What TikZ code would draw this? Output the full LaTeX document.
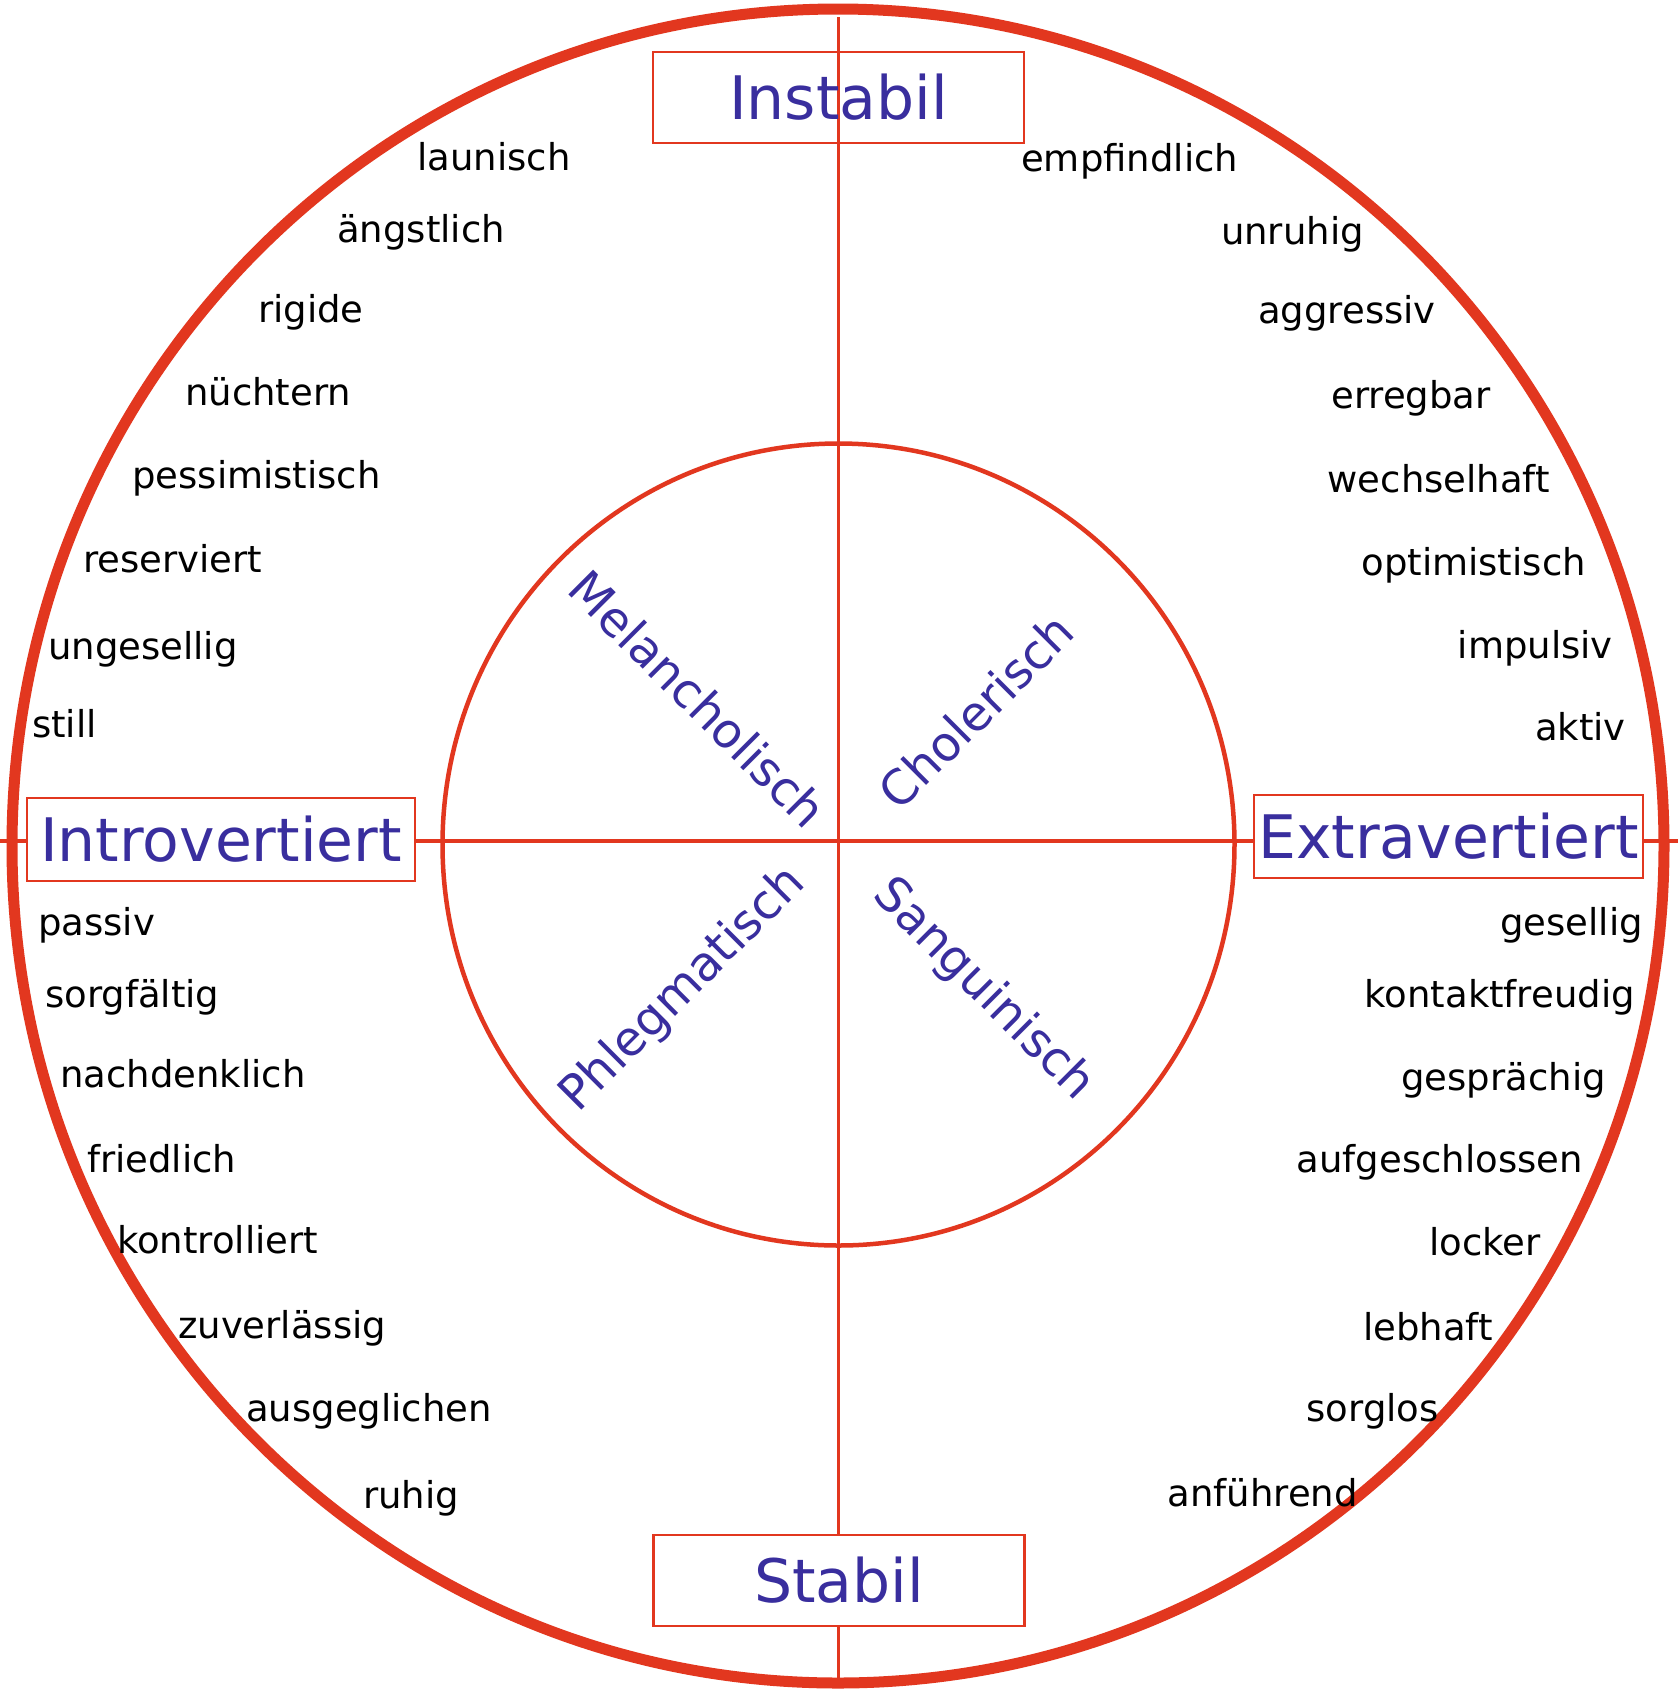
\documentclass[tikz,border=0pt]{standalone}
\usepackage{fontspec}
\setmainfont{DejaVu Sans}
\definecolor{rot}{RGB}{226,55,31}
\definecolor{blau}{RGB}{57,46,158}

\begin{document}
\begin{tikzpicture}[x=1pt,y=-1pt]
\tikzstyle{wort}= [inner sep=0pt, font=\fontsize{37}{40}\selectfont]
\tikzstyle{achse}= [draw=rot, line width=3.5pt]
\tikzstyle{typ}= [draw=rot, line width=2.3pt, inner sep=0pt, minimum width=371pt, minimum height=91pt, text=blau, font=\fontsize{60}{64}\selectfont]
\tikzstyle{temp}= [inner sep=0pt, text=blau, font=\fontsize{48}{52}\selectfont]
\fill[white] (0,0) rectangle (1678,1690);
\useasboundingbox (0,0) rectangle (1678,1690);
%Kreise
\draw[rot, line width=11pt] (838,846) ellipse [x radius=826, y radius=837];
\draw[rot, line width=4.5pt] (838.5,844.5) ellipse [x radius=396, y radius=401];
%Achsen
\coordinate (o) at (838.5,17);
\coordinate (u) at (838.5,1688);
\coordinate (l) at (0,841);
\coordinate (r) at (1678,841);
\draw[achse] (o) -- (u);
\draw[achse] (l) -- (r);
%Kaesten
\node[typ] (ins) at (838.5,97.5) {Instabil};
\node[typ, fill=white] (sta) at (839,1580.5) {Stabil};
\node[typ, fill=white, minimum width=388pt, minimum height=83pt] (intro) at (221,839.5) {Introvertiert};
\node[typ, fill=white, minimum width=389pt, minimum height=83pt] (extra) at (1448.5,836.5) {Extravertiert};
%Temperamente
\node[temp, rotate=-45] (mel) at (698,699) {Melancholisch};
\node[temp, rotate=45] (cho) at (976,711) {Cholerisch};
\node[temp, rotate=45] (phl) at (683,990) {Phlegmatisch};
\node[temp, rotate=-45] (san) at (983,990) {Sanguinisch};
%links oben
\node[wort, anchor=base west] (a1) at (417,170) {launisch};
\node[wort, anchor=base west] (a2) at (337,242) {ängstlich};
\node[wort, anchor=base west] (a3) at (258,322) {rigide};
\node[wort, anchor=base west] (a4) at (185,405) {nüchtern};
\node[wort, anchor=base west] (a5) at (132,488) {pessimistisch};
\node[wort, anchor=base west] (a6) at (83,572) {reserviert};
\node[wort, anchor=base west] (a7) at (48,659) {ungesellig};
\node[wort, anchor=base west] (a8) at (32,737) {still};
%links unten
\node[wort, anchor=base west] (b1) at (38,935) {passiv};
\node[wort, anchor=base west] (b2) at (45,1007) {sorgfältig};
\node[wort, anchor=base west] (b3) at (60,1087) {nachdenklich};
\node[wort, anchor=base west] (b4) at (87,1172) {friedlich};
\node[wort, anchor=base west] (b5) at (117,1253) {kontrolliert};
\node[wort, anchor=base west] (b6) at (178,1338) {zuverlässig};
\node[wort, anchor=base west] (b7) at (246,1421) {ausgeglichen};
\node[wort, anchor=base west] (b8) at (363,1508) {ruhig};
%rechts oben
\node[wort, anchor=base west] (c1) at (1021,171) {empfindlich};
\node[wort, anchor=base east] (c2) at (1364,244) {unruhig};
\node[wort, anchor=base east] (c3) at (1436,323) {aggressiv};
\node[wort, anchor=base east] (c4) at (1491,408) {erregbar};
\node[wort, anchor=base east] (c5) at (1550,492) {wechselhaft};
\node[wort, anchor=base east] (c6) at (1586,575) {optimistisch};
\node[wort, anchor=base east] (c7) at (1613,658) {impulsiv};
\node[wort, anchor=base east] (c8) at (1626,740) {aktiv};
%rechts unten
\node[wort, anchor=base east] (d1) at (1643,935) {gesellig};
\node[wort, anchor=base east] (d2) at (1635,1007) {kontaktfreudig};
\node[wort, anchor=base east] (d3) at (1606,1090) {gesprächig};
\node[wort, anchor=base east] (d4) at (1583,1172) {aufgeschlossen};
\node[wort, anchor=base east] (d5) at (1541,1255) {locker};
\node[wort, anchor=base east] (d6) at (1493,1340) {lebhaft};
\node[wort, anchor=base east] (d7) at (1439,1421) {sorglos};
\node[wort, anchor=base east] (d8) at (1358,1506) {anführend};
\end{tikzpicture}
\end{document}
